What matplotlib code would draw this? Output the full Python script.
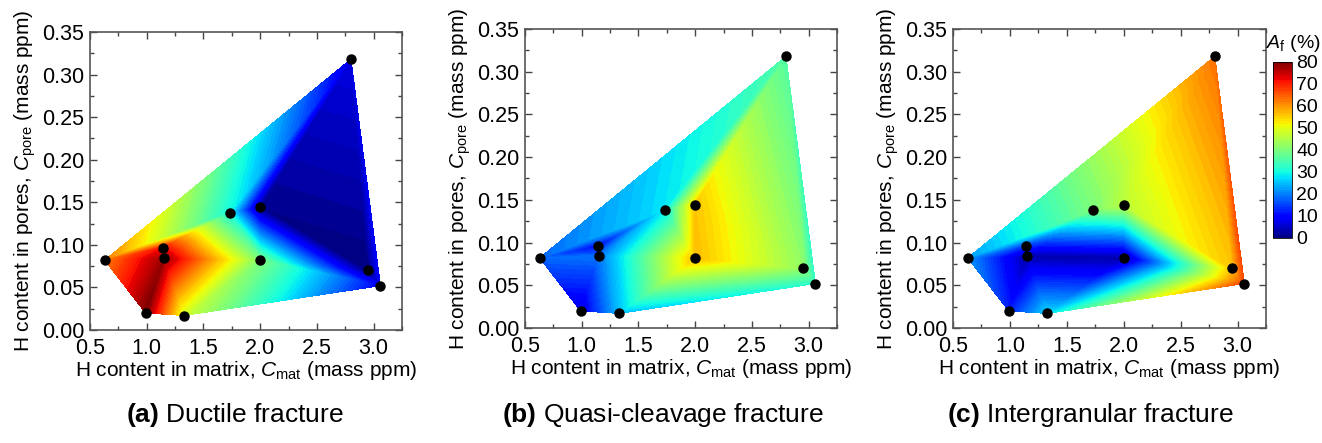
import numpy as np
import matplotlib
matplotlib.use("Agg")
import matplotlib.pyplot as plt
import matplotlib.tri as mtri
from matplotlib.ticker import MultipleLocator

plt.rcParams['font.family'] = ['Liberation Sans', 'DejaVu Sans']
plt.rcParams['mathtext.fontset'] = 'custom'
plt.rcParams['mathtext.rm'] = 'Liberation Sans'
plt.rcParams['mathtext.it'] = 'Liberation Sans:italic'
plt.rcParams['mathtext.bf'] = 'Liberation Sans:bold'

# H content in matrix / pores (mass ppm)
c_mat = [0.63, 0.99, 1.14, 1.15, 1.33, 1.73, 2.00, 2.00, 2.80, 2.95, 3.06]
c_pore = [0.082, 0.020, 0.096, 0.084, 0.017, 0.138, 0.144, 0.082, 0.318, 0.070, 0.052]

# area fraction of each fracture mode (%)
ductile = [62, 80, 72, 78, 48, 30, 1, 40, 7, 0, 9]
quasi_cleavage = [18, 7, 10, 19, 25, 28, 56, 57, 36, 42, 32]
intergranular = [22, 12, 14, 3, 27, 40, 46, 3, 63, 56, 67]

# point connectivity used for the interpolation mesh
triangles = [(0, 1, 3), (0, 3, 2), (0, 2, 5), (0, 5, 8), (1, 3, 4),
             (2, 3, 5), (3, 5, 7), (3, 4, 7), (5, 6, 7), (5, 6, 8),
             (6, 8, 9), (6, 7, 9), (7, 9, 10), (4, 7, 10), (8, 9, 10)]

captions = ["(a)", "(b)", "(c)"]
titles = ["Ductile fracture", "Quasi-cleavage fracture", "Intergranular fracture"]

fig = plt.figure(figsize=(13.22, 4.43), dpi=100)
W, H = 1322, 443

def px(l, t, r, b):
    return [l / W, 1 - b / H, (r - l) / W, (b - t) / H]

boxes = [px(90, 32, 402, 330), px(525, 29, 837, 328), px(953, 29, 1266, 328)]
cap_x = [235, 663, 1090]

tri = mtri.Triangulation(c_mat, c_pore, triangles)
levels = np.linspace(0, 80, 81)

for i, vals in enumerate([ductile, quasi_cleavage, intergranular]):
    ax = fig.add_axes(boxes[i])
    cf = ax.tricontourf(tri, vals, levels=levels, cmap='jet', vmin=0, vmax=80)
    ax.plot(c_mat, c_pore, 'o', color='black', markersize=6.5, zorder=5)
    ax.set_xlim(0.5, 3.25)
    ax.set_ylim(0, 0.35)
    ax.xaxis.set_major_locator(MultipleLocator(0.5))
    ax.xaxis.set_minor_locator(MultipleLocator(0.25))
    ax.yaxis.set_major_locator(MultipleLocator(0.05))
    ax.yaxis.set_minor_locator(MultipleLocator(0.025))
    ax.xaxis.set_major_formatter(lambda v, p: f"{v:.1f}")
    ax.yaxis.set_major_formatter(lambda v, p: f"{v:.2f}")
    ax.tick_params(which='both', direction='in', top=True, right=True,
                   labelsize=15.5, color='#444444', width=1)
    ax.tick_params(which='major', length=5)
    ax.tick_params(axis='x', which='major', pad=6)
    ax.tick_params(axis='y', which='major', pad=4)
    ax.tick_params(which='minor', length=3)
    for s in ax.spines.values():
        s.set_color('#555555')
        s.set_linewidth(1.2)
    ax.set_xlabel(r"H content in matrix, $C_{\rm mat}$ (mass ppm)", fontsize=15, labelpad=0)
    ax.set_ylabel(r"H content in pores, $C_{\rm pore}$ (mass ppm)", fontsize=15, labelpad=3)
    fig.text(cap_x[i] / W, 1 - 415 / H, r"$\mathbf{" + captions[i] + "}$ " + titles[i],
             fontsize=19, ha='center', va='center')

cax = fig.add_axes(px(1273, 62, 1292, 238))
cb = fig.colorbar(cf, cax=cax, ticks=range(0, 81, 10))
cb.outline.set_linewidth(0.6)
cax.tick_params(length=0, labelsize=14, pad=3)
fig.text(1293 / W, 1 - 43 / H, r"$A_{\rm f}$ (%)", fontsize=14, ha='center', va='center')

fig.savefig("out.png", dpi=100)
